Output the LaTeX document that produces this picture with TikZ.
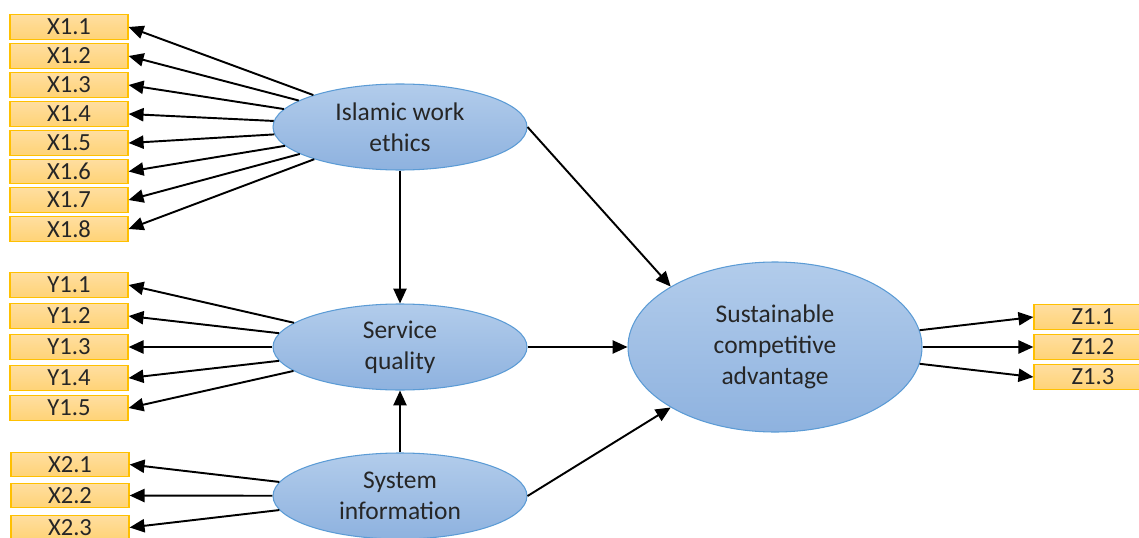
\documentclass[tikz,border=0pt]{standalone}
\usepackage{fontspec}
\setmainfont{Carlito}
\usetikzlibrary{arrows.meta,shapes.geometric}
\definecolor{boxtop}{RGB}{255,222,160}
\definecolor{boxbot}{RGB}{255,211,118}
\definecolor{boxline}{RGB}{255,192,0}
\definecolor{elltop}{RGB}{178,204,235}
\definecolor{ellbot}{RGB}{142,178,223}
\definecolor{ellline}{RGB}{91,155,213}
\definecolor{txt}{RGB}{38,38,38}
\begin{document}
\begin{tikzpicture}[
  ind/.style={draw=boxline, line width=0.7pt, top color=boxtop, bottom color=boxbot,
    minimum width=2.36cm, minimum height=0.49cm, inner sep=0pt, text=txt,
    font=\fontsize{14}{15}\selectfont},
  lat/.style={draw=ellline, line width=0.6pt, ellipse, top color=elltop, bottom color=ellbot,
    minimum width=5.08cm, minimum height=1.72cm, inner sep=0pt, align=center, text=txt,
    font=\fontsize{14.5}{17.6}\selectfont},
  arr/.style={draw, line width=1.1pt, -{Triangle[length=8.5pt,width=7.5pt]}}
]
\useasboundingbox (0,0) rectangle (22.78,-10.74);

\node[lat] (iwe) at (8,-2.54) {Islamic work\\ethics};
\node[lat] (sq) at (8,-6.94) {Service\\quality};
\node[lat] (si) at (8,-9.92) {System\\information};
\node[lat,minimum width=5.88cm,minimum height=3.4cm] (sca) at (15.5,-6.94) {Sustainable\\competitive\\advantage};

\node[ind] (x11) at (1.38,-0.54) {X1.1};
\node[ind] (x12) at (1.38,-1.12) {X1.2};
\node[ind] (x13) at (1.38,-1.70) {X1.3};
\node[ind] (x14) at (1.38,-2.28) {X1.4};
\node[ind] (x15) at (1.38,-2.86) {X1.5};
\node[ind] (x16) at (1.38,-3.43) {X1.6};
\node[ind] (x17) at (1.38,-4.00) {X1.7};
\node[ind] (x18) at (1.38,-4.58) {X1.8};

\node[ind] (y11) at (1.38,-5.70) {Y1.1};
\node[ind] (y12) at (1.38,-6.32) {Y1.2};
\node[ind] (y13) at (1.38,-6.94) {Y1.3};
\node[ind] (y14) at (1.38,-7.56) {Y1.4};
\node[ind] (y15) at (1.38,-8.16) {Y1.5};

\node[ind] (x21) at (1.40,-9.29) {X2.1};
\node[ind] (x22) at (1.40,-9.91) {X2.2};
\node[ind] (x23) at (1.40,-10.55) {X2.3};

\node[ind] (z11) at (21.86,-6.34) {Z1.1};
\node[ind] (z12) at (21.86,-6.94) {Z1.2};
\node[ind] (z13) at (21.86,-7.54) {Z1.3};

% indicators
\path[arr] (iwe) -- (x11.east);
\path[arr] (iwe) -- (x12.east);
\path[arr] (iwe) -- (x13.east);
\path[arr] (iwe) -- (x14.east);
\path[arr] (iwe) -- (x15.east);
\path[arr] (iwe) -- (x16.east);
\path[arr] (iwe) -- (x17.east);
\path[arr] (iwe) -- (x18.east);

\path[arr] (sq) -- (y11.east);
\path[arr] (sq) -- (y12.east);
\path[arr] (sq) -- (y13.east);
\path[arr] (sq) -- (y14.east);
\path[arr] (sq) -- (y15.east);

\path[arr] (si) -- (x21.east);
\path[arr] (si) -- (x22.east);
\path[arr] (si) -- (x23.east);

\path[arr] (sca) -- (z11.west);
\path[arr] (sca) -- (z12.west);
\path[arr] (sca) -- (z13.west);

% paths
\path[arr] (iwe) -- (sq);
\path[arr] (si) -- (sq);
\path[arr] (sq) -- (sca);
\path[arr] (iwe.east) -- (sca.north west);
\path[arr] (si.east) -- (sca.south west);
\end{tikzpicture}
\end{document}
